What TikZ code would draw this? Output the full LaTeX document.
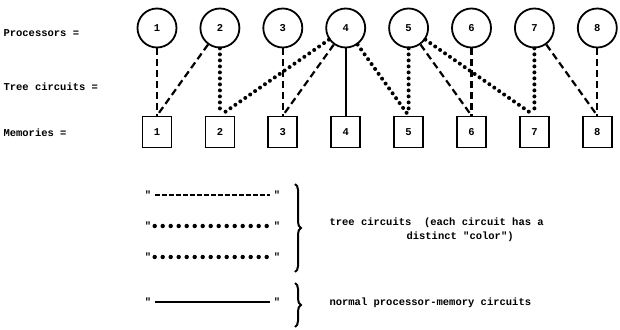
\documentclass[tikz,border=0pt]{standalone}
\usepackage{fontspec}
\setmonofont{Liberation Mono}
\usetikzlibrary{decorations.pathreplacing}
\begin{document}
\begin{tikzpicture}[x=1pt, y=-1pt,
        every node/.style = {font=\ttfamily\bfseries\fontsize{10.5}{12}\selectfont},
        proc/.style = {draw, circle, line width=1.8pt, minimum size=39pt, inner sep=0pt},
        mem/.style = {draw, rectangle, line width=1.8pt, minimum width=29pt, minimum height=31pt, inner sep=0pt},
        treedash/.style = {line width=2.2pt, dash pattern=on 7pt off 4pt},
        treedot/.style = {line width=4pt, line cap=round, dash pattern=on 0pt off 6pt, shorten >=3pt},
        legdash/.style = {line width=1.6pt, dash pattern=on 5pt off 2pt},
        legdot/.style = {line width=4.4pt, line cap=round, dash pattern=on 0pt off 8pt},
        normal/.style = {line width=1.8pt},
        bigbrace/.style = {decorate, decoration={brace, amplitude=6pt}, line width=2pt}]
    \useasboundingbox (0,0) rectangle (620,329);
    \foreach \i in {1,...,8} {
        \node[proc] (p\i) at ({157+62.9*(\i-1)}, 28) {\i};
        \node[mem]  (m\i) at ({157+62.9*(\i-1)}, 132) {\i};
    }
    \node[anchor=west] (lproc) at (0,33) {Processors =};
    \node[anchor=west] (ltree) at (0,87) {Tree circuits =};
    \node[anchor=west] (lmem)  at (0,133) {Memories =};
    % first tree
    \draw[treedash] (p1) -- (m1);
    \draw[treedash] (p2) -- (m1.north);
    \draw[treedash] (p3) -- (m3);
    \draw[treedash] (p4) -- (m3.north);
    \draw[treedash] (p5) -- (m6.north);
    \draw[treedash] (p6) -- (m6);
    \draw[treedash] (p7) -- (m8.north);
    \draw[treedash] (p8) -- (m8);
    % second tree
    \draw[treedot] (p2) -- (m2);
    \draw[treedot] (p4) -- (m2.north);
    \draw[treedot] (p4) -- (m5.north);
    \draw[treedot] (p5) -- (m5);
    \draw[treedot] (p5) -- (m7.north);
    \draw[treedot] (p7) -- (m7);
    % plain circuit
    \draw[normal] (p4) -- (m4);
    % key
    \node (k1a) at (148,195) {"};
    \node (k1b) at (277,195) {"};
    \draw[legdash] (k1a) -- (k1b);
    \node (k2a) at (148,226) {"};
    \node (k2b) at (277,226) {"};
    \draw[legdot] (k2a) -- (k2b);
    \node (k3a) at (148,257) {"};
    \node (k3b) at (277,257) {"};
    \draw[legdot] (k3a) -- (k3b);
    \node (k4a) at (148,302) {"};
    \node (k4b) at (277,302) {"};
    \draw[normal] (k4a) -- (k4b);
    \coordinate (b1t) at (295,184);
    \coordinate (b1b) at (295,272);
    \draw[bigbrace] (b1t) -- (b1b);
    \coordinate (b2t) at (295,283);
    \coordinate (b2b) at (295,327);
    \draw[bigbrace] (b2t) -- (b2b);
    \node[anchor=west] (ttree)   at (326,223) {tree circuits\ \ (each circuit has a};
    \node[anchor=west] (tcolor)  at (403,237) {distinct "color")};
    \node[anchor=west] (tnormal) at (326,303) {normal processor-memory circuits};
\end{tikzpicture}
\end{document}
